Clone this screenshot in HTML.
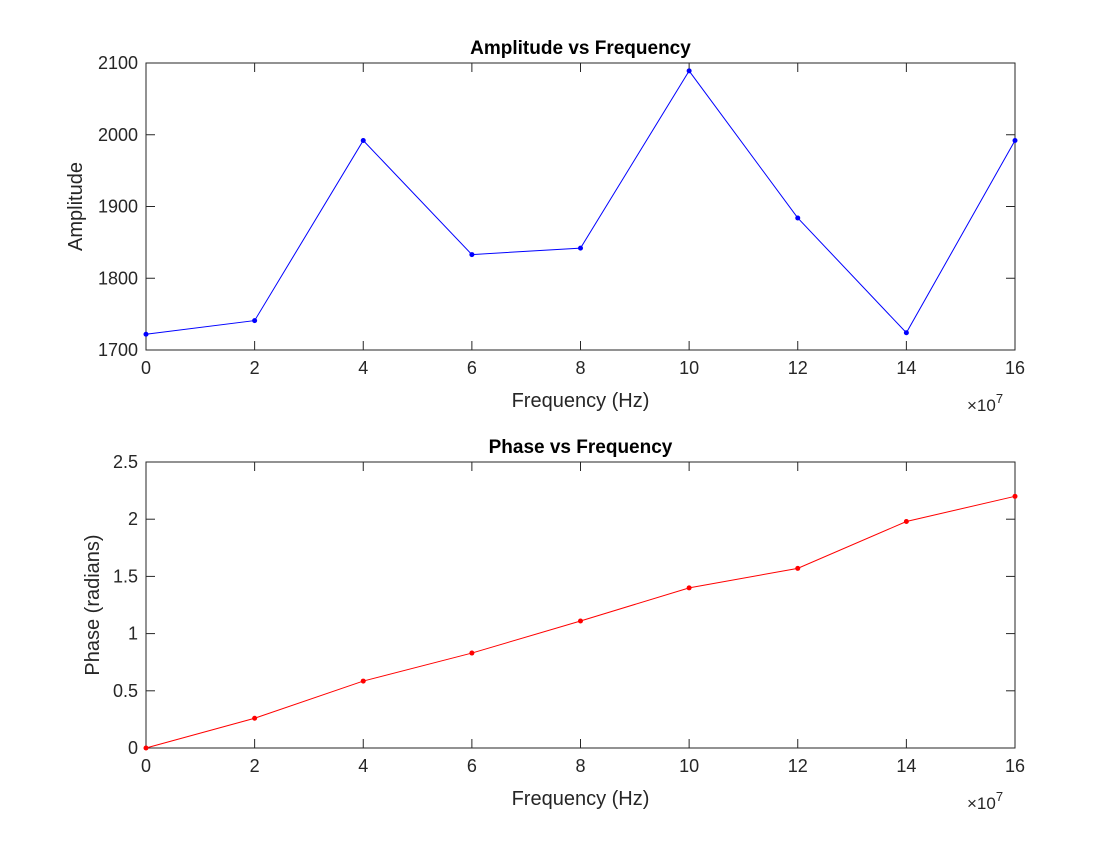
<!DOCTYPE html>
<html><head><meta charset="utf-8"><style>
body{margin:0;background:#fff;width:1120px;height:840px;overflow:hidden}
svg text{font-family:"Liberation Sans",sans-serif;fill:#262626}
</style></head><body>
<svg id="fig" width="1120" height="840" xmlns="http://www.w3.org/2000/svg"></svg>
<script>
const freqs=[0,2,4,6,8,10,12,14,16];
const amplitude=[1722,1741,1992,1833,1842,2089,1884,1724,1992];
const phase=[0,0.26,0.585,0.83,1.11,1.40,1.57,1.98,2.20];
const xTicks=[0,2,4,6,8,10,12,14,16];
const ampTicks=[1700,1800,1900,2000,2100];
const phaseTicks=[0,0.5,1,1.5,2,2.5];
const NS="http://www.w3.org/2000/svg";
const svg=document.getElementById('fig');
function el(t,a,p){const e=document.createElementNS(NS,t);for(const k in a)e.setAttribute(k,a[k]);(p||svg).appendChild(e);return e;}
function panel(o){
  const g=el('g',{});
  
  
  const L=146,R=1015,T=o.top,B=o.bottom;
  const xs=v=>L+(v-0)/(16-0)*(R-L);
  const ys=v=>B-(v-o.ymin)/(o.ymax-o.ymin)*(B-T);
  const box=el('rect',{x:L,y:T,width:R-L,height:B-T,fill:'none',stroke:'#262626','stroke-width':1},g);
  
  
  xTicks.forEach(t=>{const x=xs(t);
    el('line',{x1:x,x2:x,y1:B,y2:B-9,stroke:'#262626'},g);
    el('line',{x1:x,x2:x,y1:T,y2:T+9,stroke:'#262626'},g);
    const tx=el('text',{x:x,y:B+24,'font-size':18,'text-anchor':'middle'},g);tx.textContent=t;
    
    
  });
  o.ticks.forEach(t=>{const y=ys(t);
    el('line',{x1:L,x2:L+9,y1:y,y2:y,stroke:'#262626'},g);
    el('line',{x1:R,x2:R-9,y1:y,y2:y,stroke:'#262626'},g);
    const tx=el('text',{x:L-8,y:y+6,'font-size':18,'text-anchor':'end'},g);tx.textContent=t;
    
    
  });
  const ttl=el('text',{x:(L+R)/2,y:T-9,'font-size':19,'font-weight':'bold','text-anchor':'middle',style:'fill:#000'},g);ttl.textContent=o.title;
  
  
  const xl=el('text',{x:(L+R)/2,y:B+57,'font-size':20,'text-anchor':'middle'},g);xl.textContent='Frequency (Hz)';
  
  
  const ex=el('text',{x:967,y:B+61,'font-size':17},g);ex.textContent='×10';
  const sup=el('tspan',{dy:-8,'font-size':13},ex);sup.textContent='7';
  
  
  const yl=el('text',{transform:`translate(${o.ylx},${(T+B)/2}) rotate(-90)`,'font-size':20,'text-anchor':'middle'},g);yl.textContent=o.ylabel;
  
  
  const pts=freqs.map((f,i)=>xs(f)+','+ys(o.data[i])).join(' ');
  const line=el('polyline',{points:pts,fill:'none',stroke:o.color,'stroke-width':1},g);
  
  
  freqs.forEach((f,i)=>{const c=el('circle',{cx:xs(f),cy:ys(o.data[i]),r:2.5,fill:o.color},g);
    
    
  });
}
panel({name:'amplitude-panel',top:63,bottom:350,ymin:1700,ymax:2100,ticks:ampTicks,data:amplitude,color:'#0000ff',title:'Amplitude vs Frequency',ylabel:'Amplitude',ylx:82});
panel({name:'phase-panel',top:462,bottom:748,ymin:0,ymax:2.5,ticks:phaseTicks,data:phase,color:'#ff0000',title:'Phase vs Frequency',ylabel:'Phase (radians)',ylx:99});
</script>
</body></html>
